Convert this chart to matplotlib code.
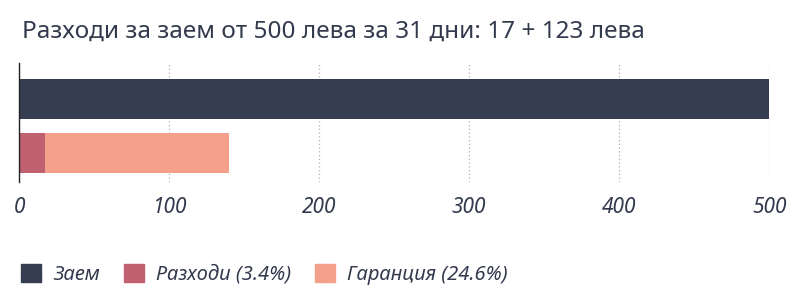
import matplotlib.pyplot as plt
from matplotlib.patches import Patch

plt.rcParams['font.family'] = ['Noto Sans', 'DejaVu Sans']

title = 'Разходи за заем от 500 лева за 31 дни: 17 + 123 лева'
rows = [0, 1]
loan = [500, 0]
costs = [0, 17]
guarantee = [0, 123]
series_labels = ['Заем', 'Разходи (3.4%)', 'Гаранция (24.6%)']
xticks = [0, 100, 200, 300, 400, 500]

navy = '#353d51'
pink = '#c06070'
salmon = '#f5a08a'
text_col = '#333a4d'

fig = plt.figure(figsize=(8, 3), dpi=100)
ax = fig.add_axes([0.024, 0.393, 0.9375, 0.397])

ax.barh(rows, loan, height=0.74, color=navy)
ax.barh(rows, costs, height=0.74, color=pink)
ax.barh(rows, guarantee, left=costs, height=0.74, color=salmon)

ax.set_xlim(0, 500)
ax.set_ylim(1.537, -0.667)
ax.set_yticks([])
ax.set_xticks(xticks)
ax.set_xticklabels([str(t) for t in xticks], fontsize=15, style='italic', color=text_col)
ax.tick_params(axis='x', length=0, pad=11)
ax.grid(axis='x', linestyle=(0, (1, 2)), color='#b0b0b0', linewidth=0.9)
ax.set_axisbelow(True)
for s in ['top', 'right', 'bottom']:
    ax.spines[s].set_visible(False)
ax.spines['left'].set_color('#222222')
ax.spines['left'].set_linewidth(1)

fig.text(0.028, 0.895, title, fontsize=17.5, color=text_col, va='center', ha='left')

handles = [Patch(color=c) for c in [navy, pink, salmon]]
leg = fig.legend(handles, series_labels, loc='center left', bbox_to_anchor=(0.003, 0.085),
                 ncol=3, frameon=False, handlelength=1.0, handleheight=1.0,
                 handletextpad=0.6, columnspacing=1.2,
                 prop={'size': 14.5, 'style': 'italic'})
for t in leg.get_texts():
    t.set_color(text_col)

fig.savefig('out.png', dpi=100)
